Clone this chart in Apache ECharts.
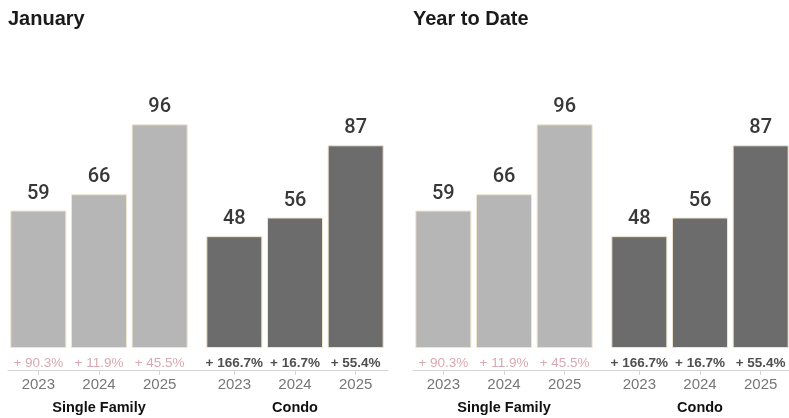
<!DOCTYPE html>
<html><head><meta charset="utf-8">
<script src="https://cdn.jsdelivr.net/npm/echarts@6/dist/echarts.min.js"></script>
<style>html,body{margin:0;padding:0;background:#fff}#c{width:789px;height:418px}</style>
</head><body><div id="c"></div>
<script>
// ---- data ----
const panelTitles = ['January', 'Year to Date'];
const groupNames = ['Single Family', 'Condo'];
const years = ['2023', '2024', '2025'];
const janSingleFamily = [59, 66, 96];
const janCondo = [48, 56, 87];
const ytdSingleFamily = [59, 66, 96];
const ytdCondo = [48, 56, 87];
const janSingleFamilyChange = ['+ 90.3%', '+ 11.9%', '+ 45.5%'];
const janCondoChange = ['+ 166.7%', '+ 16.7%', '+ 55.4%'];
const ytdSingleFamilyChange = ['+ 90.3%', '+ 11.9%', '+ 45.5%'];
const ytdCondoChange = ['+ 166.7%', '+ 16.7%', '+ 55.4%'];

// ---- layout / style ----
const FONT = '"Liberation Sans", Arial, sans-serif';
const NUMFONT = 'Roboto, "Liberation Sans", Arial, sans-serif';
const panelLeft = [8, 413];
const groupOffset = [0, 196];
const groupWidth = 182;
const panelWidth = 380;
const gridTop = 115, gridBottom = 70;
const barColors = ['#b6b6b6', '#6c6c6c'];
const changeColors = ['#d8a9b0', '#4f4f4f'];
const changeWeights = ['normal', 'bold'];

const panels = [
  { values: [janSingleFamily, janCondo], changes: [janSingleFamilyChange, janCondoChange] },
  { values: [ytdSingleFamily, ytdCondo], changes: [ytdSingleFamilyChange, ytdCondoChange] }
];

function mkGrid(left, width) {
  return { left, width, top: gridTop, bottom: gridBottom, containLabel: false, outerBoundsMode: 'none' };
}

const grid = [], xAxis = [], yAxis = [], series = [], title = [];
panels.forEach((p, pi) => {
  title.push({
    text: panelTitles[pi], left: panelLeft[pi] - 5, top: 4,
    textStyle: { fontFamily: FONT, fontSize: 20, fontWeight: 'bold', color: '#1a1a1a' }
  });
  // full-width axis line grid
  const lg = grid.length;
  grid.push(mkGrid(panelLeft[pi], panelWidth));
  xAxis.push({ gridIndex: lg, type: 'category', data: [], offset: 22,
    axisLine: { show: true, onZero: false, lineStyle: { color: '#d4d4d4', width: 1 } },
    axisTick: { show: false }, axisLabel: { show: false } });
  yAxis.push({ gridIndex: lg, type: 'value', min: 0, max: 100, show: false });

  [0, 1].forEach(gi => {
    const g = grid.length;
    grid.push(mkGrid(panelLeft[pi] + groupOffset[gi], groupWidth));
    const xPct = xAxis.length;
    xAxis.push({ gridIndex: g, type: 'category', data: p.changes[gi], position: 'bottom', offset: 0,
      axisLine: { show: false, onZero: false }, axisTick: { show: false },
      axisLabel: { interval: 0, hideOverlap: false, margin: 8, fontFamily: FONT, fontSize: 13.5, color: changeColors[gi], fontWeight: changeWeights[gi] } });
    xAxis.push({ gridIndex: g, type: 'category', data: years, position: 'bottom', offset: 22,
      axisLine: { show: false, onZero: false },
      axisTick: { show: true, alignWithLabel: true, length: 5, lineStyle: { color: '#d4d4d4' } },
      axisLabel: { interval: 0, margin: 7, fontFamily: FONT, fontSize: 15, color: '#777' },
      name: groupNames[gi], nameLocation: 'middle', nameGap: 30,
      nameTextStyle: { fontFamily: FONT, fontSize: 14.5, fontWeight: 'bold', color: '#111' } });
    yAxis.push({ gridIndex: g, type: 'value', min: 0, max: 100, show: false });
    series.push({
      type: 'bar', xAxisIndex: xPct, yAxisIndex: yAxis.length - 1,
      data: p.values[gi], barWidth: 56,
      itemStyle: { color: barColors[gi], borderColor: '#efe4cf', borderWidth: 1 },
      label: { show: true, position: 'top', distance: 7, fontFamily: NUMFONT, fontSize: 20, fontWeight: 500, color: '#383838' },
      silent: true
    });
  });
});

const chart = echarts.init(document.getElementById('c'), null, { renderer: 'canvas' });
chart.setOption({ animation: false, backgroundColor: '#fff', title, grid, xAxis, yAxis, series });
</script></body></html>
